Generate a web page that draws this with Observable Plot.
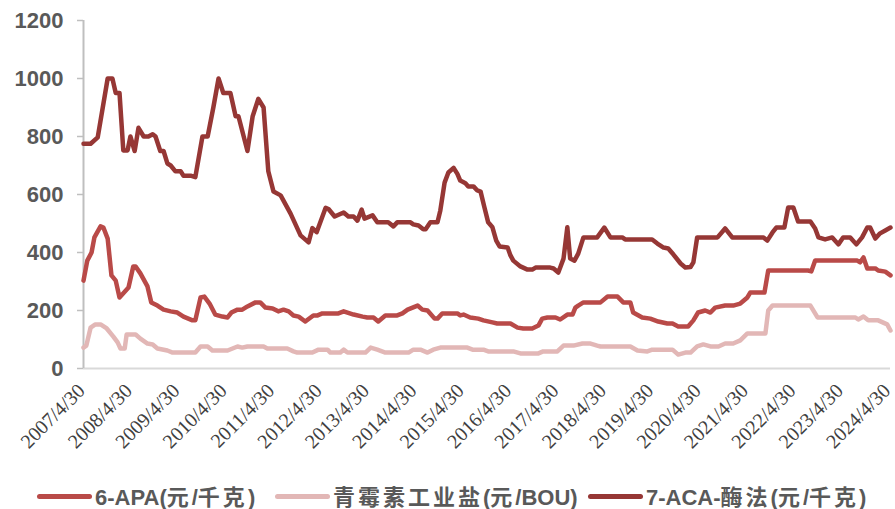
<!DOCTYPE html>
<html>
<head>
<meta charset="utf-8">
<script src="https://cdn.jsdelivr.net/npm/d3@7"></script>
<script src="https://cdn.jsdelivr.net/npm/@observablehq/plot@0.6"></script>
<style>
  html, body { margin: 0; padding: 0; background: #fff; }
  #wrap { position: relative; width: 895px; height: 509px; overflow: hidden; }
  #legend { position: absolute; left: 0; top: 483px; width: 895px; height: 26px;
    font-family: "Liberation Sans", Arial, "Noto Sans CJK SC", sans-serif; font-weight: bold;
    font-size: 22px; line-height: 26px; color: #595959; }
  .item { position: absolute; top: 0; display: flex; align-items: center; height: 26px; white-space: nowrap; }
  .sw { width: 55px; height: 5px; border-radius: 3px; margin-right: 3px; flex: none; }
  .cjk { font-family: "Noto Sans CJK SC", sans-serif; font-weight: bold; letter-spacing: 3px; line-height: 26px; }
</style>
</head>
<body>
<div id="wrap"><div id="chart"></div><div id="legend"></div></div>
<script>
// ---- data (decimal years) ----
const seriesNames = ["6-APA(元/千克)", "青霉素工业盐(元/BOU)", "7-ACA-酶法(元/千克)"];
const seriesColors = ["#B94A48", "#E2B7B6", "#963735"];
const yTicks = [0, 200, 400, 600, 800, 1000, 1200];
const xTickYears = [2007,2008,2009,2010,2011,2012,2013,2014,2015,2016,2017,2018,2019,2020,2021,2022,2023,2024];

const apaT = [2007.33,2007.41,2007.50,2007.56,2007.69,2007.75,2007.84,2007.92,2008.01,2008.09,2008.28,2008.38,2008.43,2008.53,2008.68,2008.76,2008.89,2009.02,2009.17,2009.31,2009.44,2009.63,2009.69,2009.80,2009.88,2009.99,2010.11,2010.26,2010.37,2010.45,2010.58,2010.68,2010.79,2010.96,2011.06,2011.17,2011.32,2011.44,2011.55,2011.66,2011.76,2011.87,2012.01,2012.18,2012.27,2012.37,2012.71,2012.82,2013.03,2013.22,2013.32,2013.45,2013.55,2013.70,2013.95,2014.06,2014.17,2014.38,2014.48,2014.59,2014.74,2014.80,2014.90,2015.22,2015.28,2015.35,2015.49,2015.66,2015.77,2015.96,2016.06,2016.34,2016.49,2016.61,2016.80,2016.93,2017.01,2017.12,2017.29,2017.39,2017.54,2017.65,2017.71,2017.77,2017.88,2018.24,2018.39,2018.60,2018.72,2018.87,2018.93,2019.12,2019.29,2019.46,2019.65,2019.76,2019.88,2020.09,2020.20,2020.30,2020.45,2020.56,2020.66,2020.87,2021.04,2021.19,2021.34,2021.40,2021.70,2021.78,2022.62,2022.69,2022.77,2023.66,2023.72,2023.79,2023.87,2024.04,2024.10,2024.25,2024.36];
const apaV = [303,372,400,452,490,486,448,321,303,245,279,352,352,328,283,228,217,203,197,193,179,166,166,245,248,224,186,179,176,193,203,203,214,228,228,210,207,197,203,197,183,179,162,183,183,190,190,197,186,179,176,176,162,183,183,190,203,217,203,200,172,172,190,190,183,186,176,172,166,159,155,155,141,138,138,148,172,176,176,169,186,186,210,217,228,228,248,248,228,228,193,176,172,162,155,155,145,145,166,193,200,193,210,217,217,224,245,262,262,338,338,335,372,372,366,383,345,345,338,334,321];

const penT = [2007.33,2007.39,2007.48,2007.58,2007.69,2007.82,2007.96,2008.05,2008.11,2008.20,2008.24,2008.43,2008.53,2008.68,2008.79,2008.89,2009.10,2009.21,2009.69,2009.80,2009.95,2010.05,2010.37,2010.58,2010.68,2010.79,2011.13,2011.21,2011.63,2011.76,2011.84,2012.16,2012.29,2012.48,2012.54,2012.75,2012.82,2012.90,2013.28,2013.39,2013.53,2013.70,2014.19,2014.29,2014.44,2014.59,2014.71,2014.86,2015.43,2015.54,2015.77,2015.87,2016.40,2016.55,2016.93,2017.03,2017.33,2017.46,2017.67,2017.86,2018.03,2018.17,2018.24,2018.87,2019.02,2019.23,2019.33,2019.76,2019.88,2020.03,2020.14,2020.28,2020.41,2020.56,2020.73,2020.87,2021.04,2021.19,2021.34,2021.72,2021.78,2021.87,2022.67,2022.82,2023.62,2023.68,2023.79,2023.89,2024.10,2024.29,2024.36];
const penV = [72,79,141,152,152,138,110,90,69,69,117,117,103,86,83,69,62,55,55,76,76,62,62,76,72,76,76,69,69,59,55,55,65,65,55,55,65,55,55,72,65,55,55,65,65,55,65,72,72,65,65,59,59,52,52,59,59,79,79,86,86,79,76,76,62,59,65,65,48,55,55,76,83,76,76,86,86,97,121,121,200,217,217,176,176,169,179,166,166,152,131];

const acaT = [2007.33,2007.48,2007.63,2007.84,2007.94,2008.01,2008.09,2008.17,2008.26,2008.32,2008.41,2008.49,2008.60,2008.70,2008.79,2008.85,2008.95,2009.02,2009.10,2009.17,2009.27,2009.38,2009.44,2009.59,2009.69,2009.84,2009.95,2010.07,2010.18,2010.28,2010.43,2010.54,2010.60,2010.79,2010.90,2011.02,2011.13,2011.23,2011.34,2011.49,2011.70,2011.91,2012.08,2012.16,2012.25,2012.44,2012.50,2012.63,2012.82,2012.92,2013.03,2013.11,2013.20,2013.26,2013.43,2013.53,2013.76,2013.87,2013.95,2014.23,2014.29,2014.40,2014.50,2014.55,2014.65,2014.80,2014.86,2014.95,2015.03,2015.14,2015.22,2015.28,2015.39,2015.45,2015.56,2015.64,2015.71,2015.79,2015.87,2015.96,2016.04,2016.11,2016.28,2016.34,2016.40,2016.55,2016.70,2016.80,2016.87,2017.18,2017.25,2017.35,2017.46,2017.54,2017.60,2017.69,2017.77,2017.88,2018.17,2018.32,2018.45,2018.70,2018.76,2019.33,2019.44,2019.57,2019.67,2019.78,2019.93,2020.03,2020.14,2020.20,2020.28,2020.71,2020.87,2021.02,2021.68,2021.76,2021.87,2021.95,2022.12,2022.20,2022.31,2022.41,2022.67,2022.77,2022.84,2022.98,2023.13,2023.26,2023.36,2023.51,2023.64,2023.76,2023.87,2023.93,2024.04,2024.14,2024.25,2024.36];
const acaV = [775,775,797,1000,1000,950,950,752,752,800,750,830,800,800,808,800,750,750,707,700,680,680,665,665,660,800,800,900,1000,950,950,870,870,750,870,930,900,680,610,597,534,459,435,484,470,554,550,524,538,524,524,510,548,517,528,504,504,490,504,504,497,493,480,480,504,504,545,641,676,692,671,648,639,628,628,614,610,556,504,487,441,421,417,390,372,352,341,341,348,348,345,331,379,487,379,372,396,452,452,486,452,452,445,445,431,417,414,393,362,348,350,366,452,452,483,452,452,441,469,486,486,555,555,507,507,483,452,445,452,428,452,452,428,452,486,486,448,466,476,486];

const rows = [];
apaT.forEach((t, i) => rows.push({t, v: apaV[i], s: seriesNames[0]}));
penT.forEach((t, i) => rows.push({t, v: penV[i], s: seriesNames[1]}));
acaT.forEach((t, i) => rows.push({t, v: acaV[i], s: seriesNames[2]}));

const X_FONT = 20;
const chart = Plot.plot({
  width: 895,
  height: 470,
  marginTop: 20,
  marginLeft: 83,
  marginRight: 5,
  marginBottom: 102,
  style: {background: "#fff", overflow: "visible"},
  x: {domain: [2007.33, 2024.36], axis: null, label: null},
  y: {domain: [0, 1200], axis: null, label: null},
  color: {domain: seriesNames, range: seriesColors},
  marks: [
    Plot.ruleY([0], {stroke: "#d9d9d9", strokeWidth: 2}),
    Plot.axisX(xTickYears.map(y => y + 0.33), {
      label: null, tickSize: 0, tickPadding: 19, tickRotate: -45, dx: -2,
      tickFormat: d => `${Math.round(d - 0.33)}/4/30`,
      fontSize: X_FONT, fontFamily: "Liberation Serif", fill: "#404040"
    }),
    Plot.ruleX([2007.33], {y1: 0, y2: 1200, stroke: "#bfbfbf", strokeWidth: 2}),
    Plot.axisY(yTicks, {
      label: null, tickSize: 6, tickPadding: 14, stroke: "#bfbfbf", strokeWidth: 1.5,
      tickFormat: d => String(d), fontWeight: "bold", fontSize: 22, fill: "#595959"
    }),
    Plot.line(rows, {x: "t", y: "v", z: "s", stroke: "s", strokeWidth: 4.5,
      strokeLinejoin: "round", strokeLinecap: "round"})
  ]
});
document.getElementById("chart").appendChild(chart);

// force tick label fonts
const xAxisG = chart.querySelector('g[aria-label="x-axis tick label"]');
if (xAxisG) {
  xAxisG.querySelectorAll("text").forEach(t => {
    t.style.fontFamily = '"Liberation Serif", "Times New Roman", serif';
    t.style.fontSize = X_FONT + "px";
    t.style.fill = "#404040";
  });
}
const yAxisG = chart.querySelector('g[aria-label="y-axis tick label"]');
if (yAxisG) {
  yAxisG.querySelectorAll("text").forEach(t => {
    t.style.fontFamily = '"Liberation Sans", Arial, sans-serif';
    t.style.fontSize = "22px";
    t.style.fontWeight = "bold";
    t.style.fill = "#595959";
  });
}

// legend
const legend = document.getElementById("legend");
const lefts = [37, 275, 588];
seriesNames.forEach((name, i) => {
  const item = document.createElement("div");
  item.className = "item";
  item.style.left = lefts[i] + "px";
  const sw = document.createElement("div");
  sw.className = "sw";
  sw.style.background = seriesColors[i];
  item.appendChild(sw);
  const txt = document.createElement("span");
  txt.innerHTML = name.replace(/([\u4e00-\u9fff]+)/g, '<span class="cjk">$1</span>');
  item.appendChild(txt);
  legend.appendChild(item);
});
</script>
</body>
</html>
